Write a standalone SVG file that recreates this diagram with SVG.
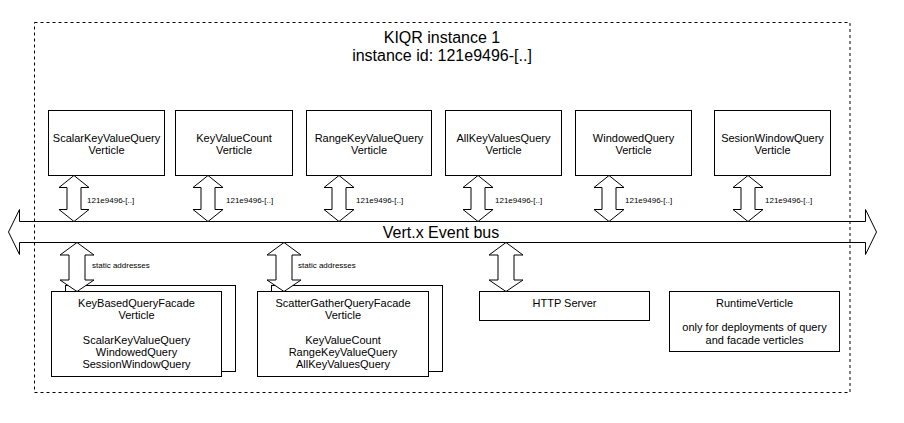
<svg xmlns="http://www.w3.org/2000/svg" width="904" height="423" viewBox="0 0 904 423">
<style>
  .box { fill: #ffffff; stroke: #000000; stroke-width: 1; }
  .arr { fill: #ffffff; stroke: #000000; stroke-width: 1; stroke-linejoin: miter; }
  .t { font-family: "Liberation Sans", Arial, Helvetica, sans-serif; font-size: 11px; fill: #000000; text-anchor: middle; }
  .s { font-family: "Liberation Sans", Arial, Helvetica, sans-serif; font-size: 8px; fill: #000000; text-anchor: start; }
  .big { font-family: "Liberation Sans", Arial, Helvetica, sans-serif; font-size: 16px; fill: #000000; text-anchor: middle; }
</style>
<rect x="0" y="0" width="904" height="423" fill="#ffffff"/>

<g id="instance-title">
  <text class="big" x="442" y="43">KIQR instance 1</text>
  <text class="big" x="442" y="61">instance id: 121e9496-[..]</text>
</g>

<g id="event-bus">
  <path class="arr" fill="none" d="M8.5,232 L19.5,209.5 L19.5,221.5 L865.5,221.5 L865.5,209.5 L876.5,232 L865.5,254.5 L865.5,242.5 L19.5,242.5 L19.5,254.5 Z"/>
  <text class="big" x="441" y="238">Vert.x Event bus</text>
</g>

<g id="ScalarKeyValueQueryVerticle">
  <rect class="box" x="48.5" y="110.5" width="116" height="65"/>
  <text class="t" x="106.5" y="142">ScalarKeyValueQuery</text>
  <text class="t" x="106.5" y="154">Verticle</text>
</g>
<g id="KeyValueCountVerticle">
  <rect class="box" x="175.5" y="110.5" width="117" height="65"/>
  <text class="t" x="234" y="142">KeyValueCount</text>
  <text class="t" x="234" y="154">Verticle</text>
</g>
<g id="RangeKeyValueQueryVerticle">
  <rect class="box" x="306.5" y="110.5" width="125" height="65"/>
  <text class="t" x="369" y="142">RangeKeyValueQuery</text>
  <text class="t" x="369" y="154">Verticle</text>
</g>
<g id="AllKeyValuesQueryVerticle">
  <rect class="box" x="445.5" y="110.5" width="116" height="65"/>
  <text class="t" x="503.5" y="142">AllKeyValuesQuery</text>
  <text class="t" x="503.5" y="154">Verticle</text>
</g>
<g id="WindowedQueryVerticle">
  <rect class="box" x="575.5" y="110.5" width="116" height="65"/>
  <text class="t" x="633.5" y="142">WindowedQuery</text>
  <text class="t" x="633.5" y="154">Verticle</text>
</g>
<g id="SesionWindowQueryVerticle">
  <rect class="box" x="714.5" y="110.5" width="116" height="65"/>
  <text class="t" x="772.5" y="142">SesionWindowQuery</text>
  <text class="t" x="772.5" y="154">Verticle</text>
</g>

<g id="KeyBasedQueryFacadeVerticle">
  <rect class="box" x="65.5" y="285.5" width="170" height="86"/>
  <rect class="box" x="51.5" y="291.5" width="170" height="85"/>
  <text class="t" x="136.5" y="307">KeyBasedQueryFacade</text>
  <text class="t" x="136.5" y="319">Verticle</text>
  <text class="t" x="136.5" y="344">ScalarKeyValueQuery</text>
  <text class="t" x="136.5" y="356">WindowedQuery</text>
  <text class="t" x="136.5" y="368">SessionWindowQuery</text>
</g>
<g id="ScatterGatherQueryFacadeVerticle">
  <rect class="box" x="271.5" y="285.5" width="171" height="86"/>
  <rect class="box" x="257.5" y="291.5" width="171" height="85"/>
  <text class="t" x="343" y="307">ScatterGatherQueryFacade</text>
  <text class="t" x="343" y="319">Verticle</text>
  <text class="t" x="343" y="344">KeyValueCount</text>
  <text class="t" x="343" y="356">RangeKeyValueQuery</text>
  <text class="t" x="343" y="368">AllKeyValuesQuery</text>
</g>
<g id="HTTPServer">
  <rect class="box" x="479.5" y="291.5" width="170" height="29"/>
  <text class="t" x="564.5" y="307">HTTP Server</text>
</g>
<g id="RuntimeVerticle">
  <rect class="box" x="669.5" y="291.5" width="170" height="60"/>
  <text class="t" x="754.5" y="307">RuntimeVerticle</text>
  <text class="t" x="754.5" y="331">only for deployments of query</text>
  <text class="t" x="754.5" y="344">and facade verticles</text>
</g>

<g id="connectors">
  <path class="arr" d="M74,175.5 L89,187.5 L81,187.5 L81,209.5 L89,209.5 L74,221.5 L59,209.5 L67,209.5 L67,187.5 L59,187.5 Z"/>
  <path class="arr" d="M208,175.5 L223,187.5 L215,187.5 L215,209.5 L223,209.5 L208,221.5 L193,209.5 L201,209.5 L201,187.5 L193,187.5 Z"/>
  <path class="arr" d="M339,175.5 L354,187.5 L346,187.5 L346,209.5 L354,209.5 L339,221.5 L324,209.5 L332,209.5 L332,187.5 L324,187.5 Z"/>
  <path class="arr" d="M478,175.5 L493,187.5 L485,187.5 L485,209.5 L493,209.5 L478,221.5 L463,209.5 L471,209.5 L471,187.5 L463,187.5 Z"/>
  <path class="arr" d="M609,175.5 L624,187.5 L616,187.5 L616,209.5 L624,209.5 L609,221.5 L594,209.5 L602,209.5 L602,187.5 L594,187.5 Z"/>
  <path class="arr" d="M748,175.5 L763,187.5 L755,187.5 L755,209.5 L763,209.5 L748,221.5 L733,209.5 L741,209.5 L741,187.5 L733,187.5 Z"/>
  <text class="s" x="87" y="203">121e9496-[..]</text>
  <text class="s" x="226" y="203">121e9496-[..]</text>
  <text class="s" x="356" y="203">121e9496-[..]</text>
  <text class="s" x="495" y="203">121e9496-[..]</text>
  <text class="s" x="625" y="203">121e9496-[..]</text>
  <text class="s" x="765" y="203">121e9496-[..]</text>

  <path class="arr" d="M77,242.5 L94,255 L85,255 L85,280 L94,280 L77,291.5 L60,280 L69,280 L69,255 L60,255 Z"/>
  <path class="arr" d="M284,242.5 L301,255 L292,255 L292,280 L301,280 L284,291.5 L267,280 L276,280 L276,255 L267,255 Z"/>
  <path class="arr" d="M506,242.5 L523,255 L514,255 L514,280 L523,280 L506,291.5 L489,280 L498,280 L498,255 L489,255 Z"/>
  <text class="s" x="92" y="268">static addresses</text>
  <text class="s" x="298" y="268">static addresses</text>
</g>

<g id="instance-container">
  <rect x="34.5" y="22.5" width="815.5" height="370" fill="none" stroke="#000000" stroke-width="1" stroke-dasharray="3 3"/>
</g>
</svg>
